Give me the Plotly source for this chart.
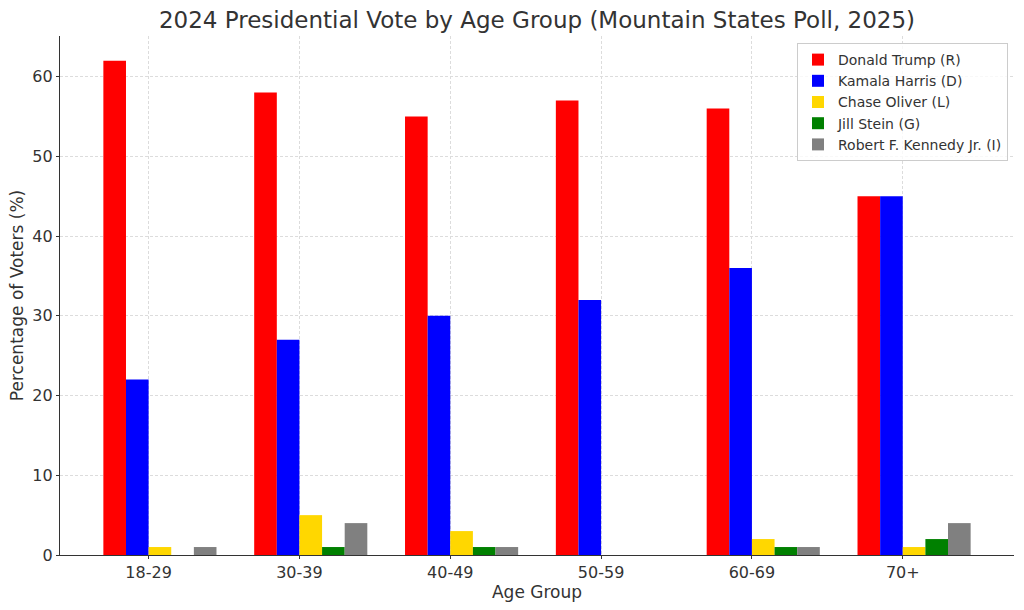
import plotly.graph_objects as go

age_groups = ["18-29", "30-39", "40-49", "50-59", "60-69", "70+"]
candidates = ["Donald Trump (R)", "Kamala Harris (D)", "Chase Oliver (L)", "Jill Stein (G)", "Robert F. Kennedy Jr. (I)"]
trump = [62, 58, 55, 57, 56, 45]
harris = [22, 27, 30, 32, 36, 45]
oliver = [1, 5, 3, 0, 2, 1]
stein = [0, 1, 1, 0, 1, 2]
kennedy = [1, 4, 1, 0, 1, 4]
colors = ["#FF0000", "#0000FF", "#FFD700", "#008000", "#808080"]
series = [trump, harris, oliver, stein, kennedy]

width = 0.15
idx = list(range(len(age_groups)))

fig = go.Figure()
for i, (name, vals, col) in enumerate(zip(candidates, series, colors)):
    fig.add_trace(go.Bar(
        x=[k + i * width for k in idx], y=vals, width=width, name=name,
        marker=dict(color=col, line=dict(width=0)),
    ))

font = "DejaVu Sans, sans-serif"
grid = dict(showgrid=True, gridcolor="#dcdcdc", griddash="3px,2px", gridwidth=0.8)
fig.update_layout(
    width=1024, height=610,
    barmode="overlay",
    paper_bgcolor="white", plot_bgcolor="white",
    margin=dict(l=60, r=10, t=36, b=55),
    font=dict(family=font, color="#333333", size=16),
    title=dict(text="2024 Presidential Vote by Age Group (Mountain States Poll, 2025)",
               x=0.5, xref="paper", xanchor="center", y=0.967, yanchor="middle",
               font=dict(size=23, color="#333333")),
    xaxis=dict(
        range=[-0.3625, 5.9625],
        tickvals=[k + 1.5 * width for k in idx], ticktext=age_groups,
        showline=True, linecolor="#333333", linewidth=1.2,
        ticks="outside", ticklen=3, tickcolor="#333333",
        zeroline=False,
        title=dict(text="Age Group", font=dict(size=17), standoff=2),
        tickfont=dict(size=16),
        **grid,
    ),
    yaxis=dict(
        range=[0, 65.1],
        tickvals=[0, 10, 20, 30, 40, 50, 60],
        showline=True, linecolor="#333333", linewidth=1.2,
        ticks="outside", ticklen=3, tickcolor="#333333",
        zeroline=False,
        title=dict(text="Percentage of Voters (%)", font=dict(size=17), standoff=4),
        tickfont=dict(size=16),
        **grid,
    ),
    legend=dict(
        x=0.9937, xanchor="right", y=0.9865, yanchor="top",
        bgcolor="rgba(255,255,255,0.8)", bordercolor="#cccccc", borderwidth=1,
        font=dict(size=14, color="#333333"),
        tracegroupgap=0, itemwidth=30,
    ),
    showlegend=True,
)

fig.write_html("out.html", config={"displayModeBar": False},
               post_script="document.body.style.margin='0';")
